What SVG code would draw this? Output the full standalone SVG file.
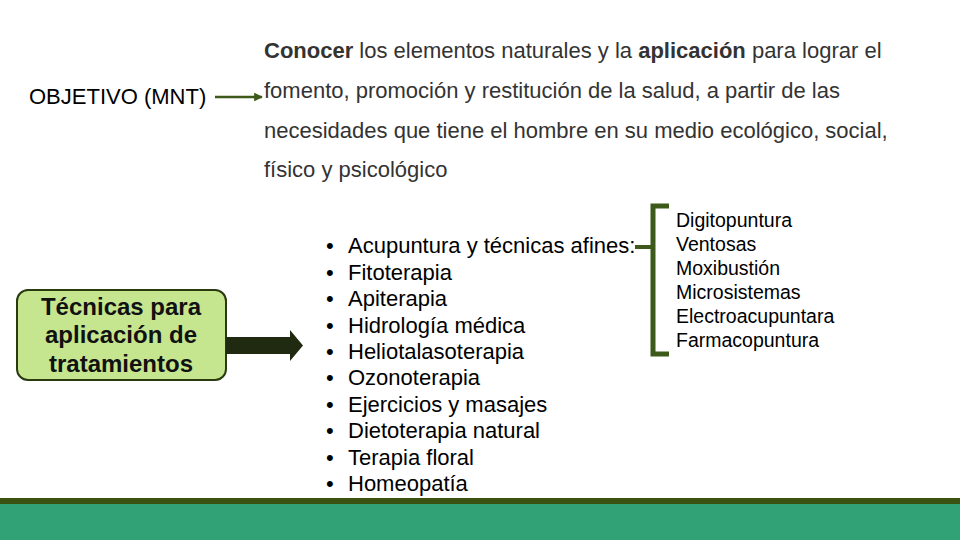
<svg xmlns="http://www.w3.org/2000/svg" width="960" height="540" viewBox="0 0 960 540">
<defs>
<style>
text{font-family:"Liberation Sans",Arial,sans-serif;}
.obj{font-size:22px;fill:#333333;}
.lst{font-size:22px;fill:#000;}
.sub{font-size:19.5px;fill:#000;}
.box{font-size:24px;font-weight:bold;fill:#111;text-anchor:middle;}
</style>
<marker id="ah" viewBox="0 0 10 10" refX="9" refY="5" markerWidth="3.5" markerHeight="3.5" orient="auto"><path d="M0,0 L10,5 L0,10 z" fill="#3d5a1a"/></marker>
</defs>
<rect width="960" height="540" fill="#ffffff"/>
<g id="footer">
<rect x="0" y="498" width="960" height="6" fill="#3b5311"/>
<rect x="0" y="504" width="960" height="36" fill="#31a276"/>
</g>
<g id="objetivo">
<text x="29" y="104" style="font-size:22px" fill="#000">OBJETIVO (MNT)</text>
</g>
<g id="definicion">
<text class="obj" x="264" y="58"><tspan font-weight="bold">Conocer</tspan> los elementos naturales y la <tspan font-weight="bold">aplicación</tspan> para lograr el</text>
<text class="obj" x="264" y="98">fomento, promoción y restitución de la salud, a partir de las</text>
<text class="obj" x="264" y="138">necesidades que tiene el hombre en su medio ecológico, social,</text>
<text class="obj" x="264" y="177">físico y psicológico</text>
</g>
<g id="tecnicas">
<rect x="17" y="290" width="209" height="90" rx="11" fill="#c5e68f" stroke="#2a3a10" stroke-width="2"/>
<text class="box" x="121" y="315">Técnicas para</text>
<text class="box" x="121" y="343">aplicación de</text>
<text class="box" x="121" y="372">tratamientos</text>
</g>
<g id="lista">
<text class="lst" x="326" y="253">•</text><text class="lst" x="348" y="253">Acupuntura y técnicas afines:</text>
<text class="lst" x="326" y="280">•</text><text class="lst" x="348" y="280">Fitoterapia</text>
<text class="lst" x="326" y="306">•</text><text class="lst" x="348" y="306">Apiterapia</text>
<text class="lst" x="326" y="333">•</text><text class="lst" x="348" y="333">Hidrología médica</text>
<text class="lst" x="326" y="359">•</text><text class="lst" x="348" y="359">Heliotalasoterapia</text>
<text class="lst" x="326" y="385">•</text><text class="lst" x="348" y="385">Ozonoterapia</text>
<text class="lst" x="326" y="412">•</text><text class="lst" x="348" y="412">Ejercicios y masajes</text>
<text class="lst" x="326" y="438">•</text><text class="lst" x="348" y="438">Dietoterapia natural</text>
<text class="lst" x="326" y="465">•</text><text class="lst" x="348" y="465">Terapia floral</text>
<text class="lst" x="326" y="491">•</text><text class="lst" x="348" y="491">Homeopatía</text>
</g>
<g id="acupuntura-sub">
<text class="sub" x="676" y="227">Digitopuntura</text>
<text class="sub" x="676" y="251">Ventosas</text>
<text class="sub" x="676" y="275">Moxibustión</text>
<text class="sub" x="676" y="299">Microsistemas</text>
<text class="sub" x="676" y="323">Electroacupuntara</text>
<text class="sub" x="676" y="347">Farmacopuntura</text>
</g>
<g id="connectors">
<line x1="215" y1="97" x2="262" y2="97" stroke="#3d5a1a" stroke-width="2.5" marker-end="url(#ah)"/>
<path d="M226,337 H290 V330 L303,345.5 L290,361 V354 H226 Z" fill="#1f2a10"/>
<path d="M669,206 H653 V354 H669" fill="none" stroke="#3d5a1a" stroke-width="5"/>
<line x1="635" y1="247" x2="653" y2="247" stroke="#3d5a1a" stroke-width="4"/>
</g>
</svg>
